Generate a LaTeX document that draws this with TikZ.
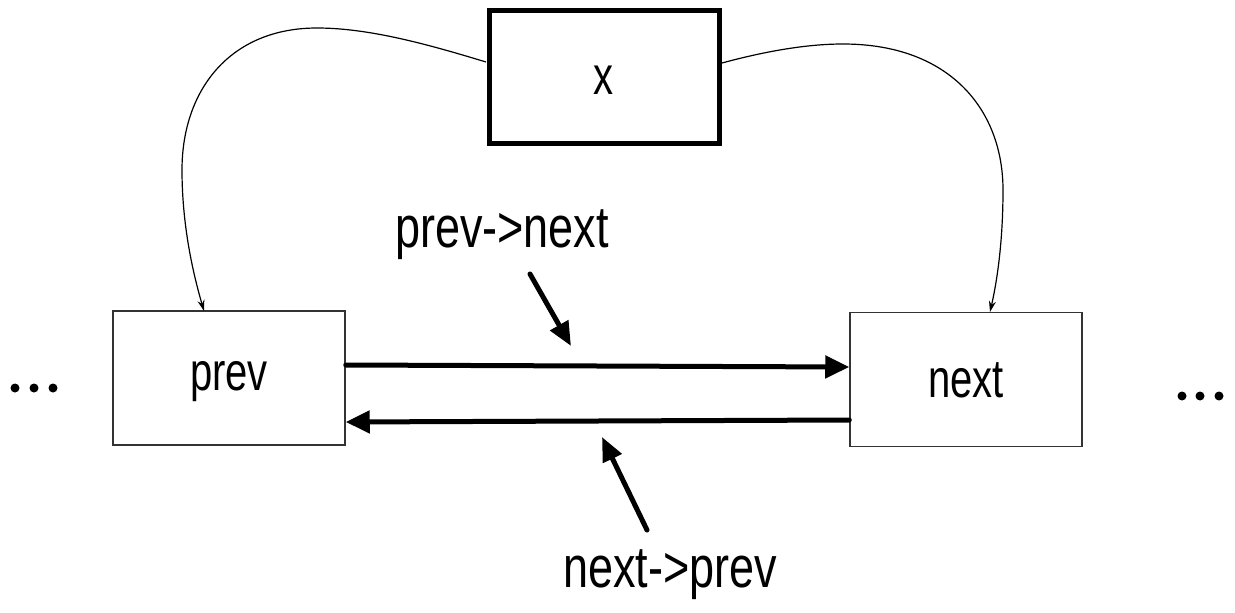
\documentclass[tikz,border=0pt]{standalone}
\usepackage{fontspec}
\setmainfont{Liberation Sans}
\usetikzlibrary{arrows.meta}
\begin{document}
\begin{tikzpicture}[x=1pt,y=-1pt,
  hand/.style={font=\fontsize{40}{48}\selectfont, inner sep=0pt},
  handlab/.style={font=\fontsize{45}{54}\selectfont, inner sep=0pt},
  thinbox/.style={draw=black!80, line width=1.5pt, minimum width=232pt, minimum height=134pt, inner sep=0pt},
  ptr/.style={line width=1.2pt, -{Stealth[length=11pt,width=7pt]}},
  link/.style={line width=5pt, -{Triangle[length=24pt,width=22pt]}},
  hint/.style={line width=5pt, line cap=round, -{Triangle[length=24pt,width=20pt]}},
  dot/.style={circle, fill=black, inner sep=0pt, minimum size=9pt}]
\useasboundingbox (0,0) rectangle (1235,613);
\node[draw=black, line width=5pt, minimum width=230pt, minimum height=133pt, inner sep=0pt] (x) at (604.5,77) {};
\node[hand] at (603,80) {\scalebox{1}[1.35]{x}};
\node[thinbox] (prev) at (229,378) {};
\node[hand] at (229,382) {\scalebox{1}[1.35]{prev}};
\node[thinbox] (next) at (966,379.5) {};
\node[hand] at (966,380) {\scalebox{1}[1.35]{next}};
\node[dot] (l1) at (15,388) {};
\node[dot] (l2) at (34,388) {};
\node[dot] (l3) at (53,388) {};
\node[dot] (r1) at (1182,396) {};
\node[dot] (r2) at (1200,396) {};
\node[dot] (r3) at (1219,396) {};
\coordinate (xl) at (486,62);
\coordinate (xr) at (722,63);
\coordinate (pt) at (204,311);
\coordinate (nt) at (990,312);
\draw[ptr] (xl) .. controls (430,45) and (370,28) .. (317,28)
  .. controls (230,28) and (182,90) .. (182,170)
  .. controls (182,230) and (195,280) .. (pt);
\draw[ptr] (xr) .. controls (770,50) and (810,44) .. (843,44)
  .. controls (950,44) and (1003,110) .. (1003,190)
  .. controls (1003,250) and (995,290) .. (nt);
\coordinate (a1s) at (prev.east |- 0,365);
\coordinate (a1e) at (next.west |- 0,367);
\coordinate (a2s) at (next.west |- 0,420);
\coordinate (a2e) at (prev.east |- 0,422);
\draw[link, line cap=round] (a1s) -- (a1e);
\draw[link, line cap=round] (a2s) -- (a2e);
\node[handlab] (l1lab) at (502,235) {\scalebox{1}[1.3]{prev->next}};
\node[handlab] (l2lab) at (670,575) {\scalebox{1}[1.3]{next->prev}};
\coordinate (h1s) at (530,274);
\coordinate (h1e) at (571,346);
\coordinate (h2s) at (647,530);
\coordinate (h2e) at (602,437);
\draw[hint] (h1s) -- (h1e);
\draw[hint] (h2s) -- (h2e);
\end{tikzpicture}
\end{document}
